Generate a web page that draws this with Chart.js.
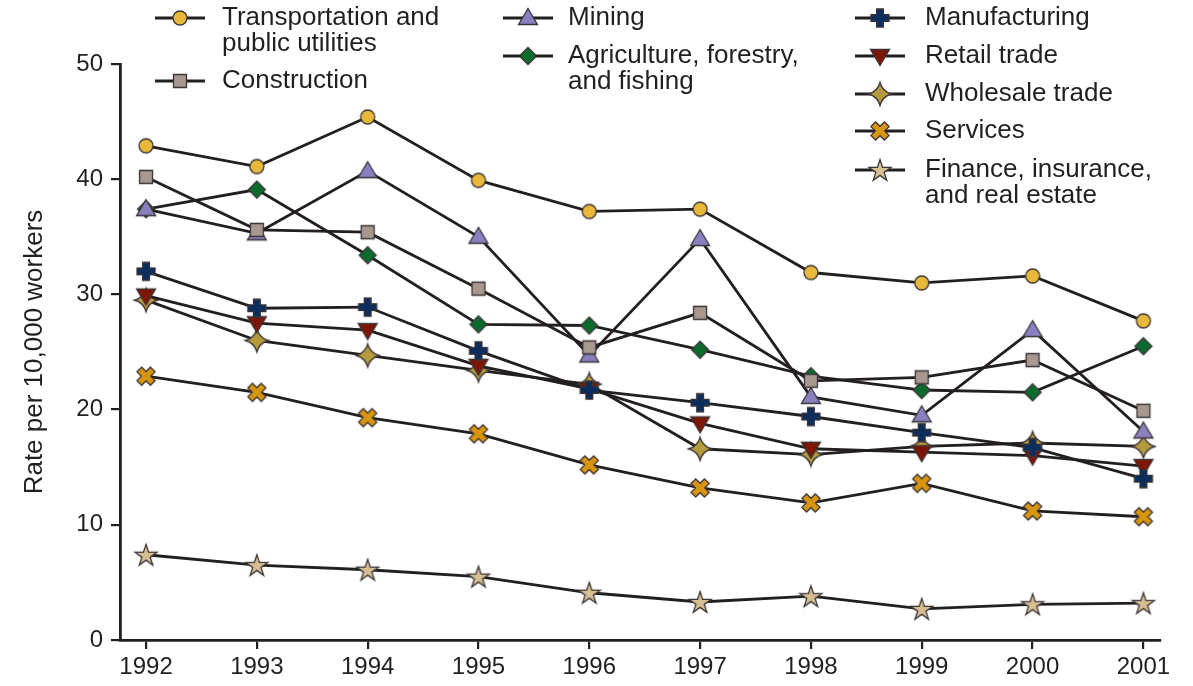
<!DOCTYPE html>
<html>
<head>
<meta charset="utf-8">
<script src="https://cdn.jsdelivr.net/npm/chart.js@4.4.0/dist/chart.umd.min.js"></script>
<style>
	html, body { margin: 0; padding: 0; background: #fff; }
</style>
</head>
<body>
<canvas id="chart" width="1193" height="686"></canvas>
<script>
const years = [1992, 1993, 1994, 1995, 1996, 1997, 1998, 1999, 2000, 2001];
const yTicks = [0, 10, 20, 30, 40, 50];

const transportation = [42.9, 41.1, 45.4, 39.9, 37.2, 37.4, 31.9, 31.0, 31.6, 27.7];
const construction = [40.2, 35.6, 35.4, 30.5, 25.4, 28.4, 22.5, 22.8, 24.3, 19.9];
const mining = [37.4, 35.3, 40.7, 35.0, 24.7, 34.8, 21.1, 19.5, 26.9, 18.1];
const agriculture = [37.4, 39.1, 33.4, 27.4, 27.3, 25.2, 22.9, 21.7, 21.5, 25.5];
const manufacturing = [32.0, 28.8, 28.9, 25.1, 21.7, 20.6, 19.4, 18.0, 16.7, 14.0];
const retail = [29.9, 27.5, 26.9, 23.8, 21.8, 18.8, 16.6, 16.3, 16.0, 15.1];
const wholesale = [29.5, 26.0, 24.7, 23.4, 22.2, 16.6, 16.1, 16.8, 17.1, 16.8];
const services = [22.9, 21.5, 19.3, 17.9, 15.2, 13.2, 11.9, 13.6, 11.2, 10.7];
const finance = [7.4, 6.5, 6.1, 5.5, 4.1, 3.3, 3.8, 2.7, 3.1, 3.2];

const ink = "#231f20";
const font = "'Liberation Sans', Arial, Helvetica, sans-serif";

// small canvases used as point styles
const makeMarker = (fill, draw) => {
	const c = document.createElement("canvas");
	c.width = 28;
	c.height = 28;
	const ctx = c.getContext("2d");
	ctx.translate(14, 14);
	ctx.beginPath();
	draw(ctx);
	ctx.closePath();
	ctx.fillStyle = fill;
	ctx.fill();
	ctx.lineWidth = 1.3;
	ctx.lineJoin = "miter";
	ctx.strokeStyle = "#3b3436";
	ctx.stroke();
	return c;
};

const polygon = (ctx, pts) => {
	ctx.moveTo(pts[0][0], pts[0][1]);
	pts.slice(1).forEach((p) => ctx.lineTo(p[0], p[1]));
};

const plusPoints = (a, t) => [
	[-t, -a], [t, -a], [t, -t], [a, -t], [a, t], [t, t],
	[t, a], [-t, a], [-t, t], [-a, t], [-a, -t], [-t, -t],
];

const rotate = (pts, ang) =>
	pts.map(([x, y]) => [x * Math.cos(ang) - y * Math.sin(ang), x * Math.sin(ang) + y * Math.cos(ang)]);

const markers = {
	circle: (fill) => makeMarker(fill, (ctx) => ctx.arc(0, 0, 7, 0, Math.PI * 2)),
	square: (fill) => makeMarker(fill, (ctx) => ctx.rect(-6.5, -6.5, 13, 13)),
	triUp: (fill) => makeMarker(fill, (ctx) => polygon(ctx, [[0, -9.5], [9.5, 6.5], [-9.5, 6.5]])),
	triDown: (fill) => makeMarker(fill, (ctx) => polygon(ctx, [[-9.5, -6.5], [9.5, -6.5], [0, 9.5]])),
	diamond: (fill) => makeMarker(fill, (ctx) => polygon(ctx, [[0, -8.5], [8.5, 0], [0, 8.5], [-8.5, 0]])),
	plus: (fill) => makeMarker(fill, (ctx) => polygon(ctx, plusPoints(9, 3.4))),
	cross: (fill) => makeMarker(fill, (ctx) => polygon(ctx, rotate(plusPoints(9.5, 3.3), Math.PI / 4))),
	star4: (fill) =>
		makeMarker(fill, (ctx) => {
			ctx.moveTo(0, -11.5);
			ctx.quadraticCurveTo(2.5, -2.5, 11.5, 0);
			ctx.quadraticCurveTo(2.5, 2.5, 0, 11.5);
			ctx.quadraticCurveTo(-2.5, 2.5, -11.5, 0);
			ctx.quadraticCurveTo(-2.5, -2.5, 0, -11.5);
		}),
	star5: (fill) =>
		makeMarker(fill, (ctx) => {
			const pts = [];
			for (let i = 0; i < 10; i++) {
				const r = i % 2 === 0 ? 11.5 : 4.4;
				const a = -Math.PI / 2 + (i * Math.PI) / 5;
				pts.push([r * Math.cos(a), r * Math.sin(a) + 1]);
			}
			polygon(ctx, pts);
		}),
};

const series = [
	{ label: ["Transportation and", "public utilities"], data: transportation, marker: markers.circle("#e8b83a") },
	{ label: ["Construction"], data: construction, marker: markers.square("#a8988f") },
	{ label: ["Mining"], data: mining, marker: markers.triUp("#8a80c0") },
	{ label: ["Agriculture, forestry,", "and fishing"], data: agriculture, marker: markers.diamond("#0b6b2d") },
	{ label: ["Manufacturing"], data: manufacturing, marker: markers.plus("#0b2e5c") },
	{ label: ["Retail trade"], data: retail, marker: markers.triDown("#7d1606") },
	{ label: ["Wholesale trade"], data: wholesale, marker: markers.star4("#b59a3e") },
	{ label: ["Services"], data: services, marker: markers.cross("#d8960f") },
	{ label: ["Finance, insurance,", "and real estate"], data: finance, marker: markers.star5("#d6be92") },
];

// legend placement: [line start x, text x, first line centre y]
const legendSpots = [
	[155, 222, 18], [155, 222, 81],
	[503, 568, 18], [503, 568, 56],
	[855, 925, 18], [855, 925, 56], [855, 925, 94], [855, 925, 131], [855, 925, 170],
];

const legendPlugin = {
	id: "sideLegend",
	afterDraw(chart) {
		const ctx = chart.ctx;
		ctx.save();
		series.forEach((s, i) => {
			const [lx, tx, ty] = legendSpots[i];
			ctx.strokeStyle = ink;
			ctx.lineWidth = 2.8;
			ctx.beginPath();
			ctx.moveTo(lx, ty);
			ctx.lineTo(lx + 50, ty);
			ctx.stroke();
			ctx.drawImage(s.marker, lx + 25 - 14, ty - 14);
			ctx.fillStyle = ink;
			ctx.font = "26px " + font;
			ctx.textBaseline = "middle";
			ctx.textAlign = "left";
			s.label.forEach((line, j) => ctx.fillText(line, tx, ty + j * 26));
		});
		ctx.restore();
	},
};

const datasets = series.map((s) => ({
	label: s.label.join(" "),
	data: years.map((yr, i) => ({ x: yr, y: s.data[i] })),
	borderColor: ink,
	borderWidth: 2.8,
	pointStyle: s.marker,
	pointRadius: 8,
	pointHoverRadius: 8,
	tension: 0,
}));

new Chart(document.getElementById("chart"), {
	type: "line",
	data: { datasets: datasets },
	plugins: [legendPlugin],
	options: {
		responsive: false,
		devicePixelRatio: 1,
		animation: false,
		events: [],
		layout: { padding: { top: 64, right: 33, bottom: 0, left: 0 } },
		plugins: { legend: { display: false }, tooltip: { enabled: false } },
		scales: {
			x: {
				type: "linear",
				min: 1991.765,
				max: 2001.15,
				afterFit: (s) => { s.height = 46; },
				afterBuildTicks: (s) => { s.ticks = years.map((v) => ({ value: v })); },
				ticks: {
					callback: (v) => String(v),
					color: ink,
					font: { family: font, size: 24 },
					padding: 4,
					maxRotation: 0,
				},
				grid: { drawOnChartArea: false, drawTicks: true, tickLength: 9, color: ink, lineWidth: 2.2 },
				border: { color: ink, width: 2.8 },
			},
			y: {
				min: 0,
				max: 50,
				afterFit: (s) => { s.width = 120; },
				afterBuildTicks: (s) => { s.ticks = yTicks.map((v) => ({ value: v })); },
				ticks: {
					color: ink,
					font: { family: font, size: 24 },
					padding: 8,
				},
				grid: { drawOnChartArea: false, drawTicks: true, tickLength: 9, color: ink, lineWidth: 2.2 },
				border: { color: ink, width: 2.8 },
				title: {
					display: true,
					text: "Rate per 10,000 workers",
					color: ink,
					font: { family: font, size: 26 },
					padding: { top: 19, bottom: 0 },
				},
			},
		},
	},
});
</script>
</body>
</html>
